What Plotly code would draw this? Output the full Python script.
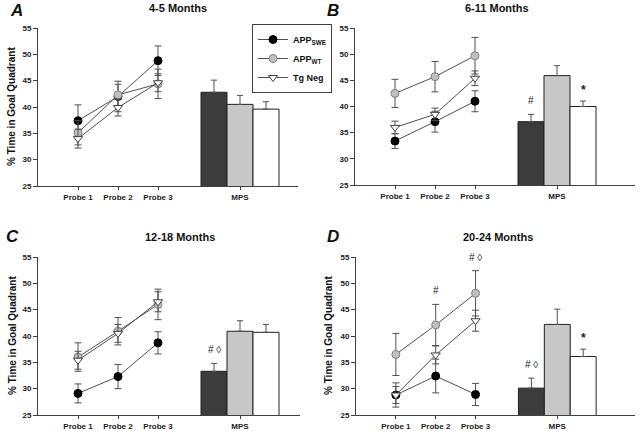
import plotly.graph_objects as go

probes = ["Probe 1", "Probe 2", "Probe 3"]
groups = ["APP<sub>SWE</sub>", "APP<sub>WT</sub>", "Tg Neg"]
titles = ["4-5 Months", "6-11 Months", "12-18 Months", "20-24 Months"]
letters = ["A", "B", "C", "D"]
ytitle = "% Time in Goal Quadrant"
yticks = [25, 30, 35, 40, 45, 50, 55]

# panel A
A_swe = [37.4, 42.0, 48.8]; A_swe_err = [3.0, 2.9, 2.8]
A_wt = [35.1, 42.3, 44.4]; A_wt_err = [2.3, 2.0, 2.8]
A_tg = [34.0, 39.9, 44.6]; A_tg_err = [1.8, 1.6, 1.7]
A_mps = [42.8, 40.5, 39.6]; A_mps_err = [2.3, 1.7, 1.4]
# panel B
B_swe = [33.4, 37.1, 41.0]; B_swe_err = [1.4, 2.0, 2.0]
B_wt = [42.5, 45.7, 49.7]; B_wt_err = [2.7, 2.9, 3.5]
B_tg = [36.0, 38.5, 45.4]; B_tg_err = [1.2, 1.2, 1.4]
B_mps = [37.1, 45.9, 40.0]; B_mps_err = [1.4, 1.9, 1.05]
# panel C
C_swe = [29.1, 32.3, 38.7]; C_swe_err = [1.8, 2.3, 2.1]
C_wt = [36.0, 40.9, 46.0]; C_wt_err = [2.7, 2.6, 2.9]
C_tg = [35.4, 40.5, 46.5]; C_tg_err = [1.7, 1.7, 1.9]
C_mps = [33.3, 40.9, 40.7]; C_mps_err = [1.5, 2.0, 1.5]
# panel D
D_swe = [28.8, 32.4, 28.9]; D_swe_err = [2.3, 3.2, 2.1]
D_wt = [36.5, 42.1, 48.1]; D_wt_err = [4.0, 3.9, 4.3]
D_tg = [28.8, 36.4, 42.9]; D_tg_err = [1.6, 1.7, 2.0]
D_mps = [30.1, 42.2, 36.1]; D_mps_err = [1.9, 2.9, 1.4]

panels = [
    (A_swe, A_swe_err, A_wt, A_wt_err, A_tg, A_tg_err, A_mps, A_mps_err),
    (B_swe, B_swe_err, B_wt, B_wt_err, B_tg, B_tg_err, B_mps, B_mps_err),
    (C_swe, C_swe_err, C_wt, C_wt_err, C_tg, C_tg_err, C_mps, C_mps_err),
    (D_swe, D_swe_err, D_wt, D_wt_err, D_tg, D_tg_err, D_mps, D_mps_err),
]

# significance marks: (panel, "probe"/"mps", index, text)
marks = [
    (1, "mps", 0, "#"), (1, "mps", 2, "*"),
    (2, "mps", 0, "# \u25ca"),
    (3, "probe", 1, "#"), (3, "probe", 2, "# \u25ca"),
    (3, "mps", 0, "# \u25ca"), (3, "mps", 2, "*"),
]

W, H = 640, 431


def fx(p):
    return p / W


def fy(p):
    return 1 - p / H


xdom = [(38, 298), (355, 635), (38, 300), (356, 635)]
ydom = [(28, 186), (28, 185), (257, 415), (257, 415)]
xranges = [[0, 6.5], [0, 7.0], [0, 6.55], [0, 7.0]]
px = [1, 2, 3]
mps_x = 5.05
bar_x = [4.4, 5.05, 5.7]
bar_w = 0.65

FONT = "Liberation Sans, Arial, sans-serif"
LC = "#505050"
styles = [
    dict(symbol="circle", size=8, color="black", line=dict(color="black", width=1)),
    dict(symbol="circle", size=8, color="#c0c0c0", line=dict(color="#808080", width=1)),
    dict(symbol="triangle-down", size=8, color="white", line=dict(color="#404040", width=1)),
]
bar_colors = ["#3c3c3c", "#c8c8c8", "white"]

fig = go.Figure()
layout = {}
for i, p in enumerate(panels):
    sfx = "" if i == 0 else str(i + 1)
    xa, ya = "x" + sfx, "y" + sfx
    vals = [(p[0], p[1]), (p[2], p[3]), (p[4], p[5])]
    mps, mps_err = p[6], p[7]
    for b in range(3):
        fig.add_trace(go.Bar(
            x=[bar_x[b]], y=[mps[b]], width=bar_w, xaxis=xa, yaxis=ya,
            base=0, marker=dict(color=bar_colors[b], line=dict(color="#202020", width=1)),
            error_y=dict(type="data", symmetric=False, array=[mps_err[b]], arrayminus=[0],
                         color=LC, thickness=1, width=3),
            showlegend=False, hoverinfo="skip"))
    for g in range(3):
        y, e = vals[g]
        fig.add_trace(go.Scatter(
            x=px, y=y, xaxis=xa, yaxis=ya, mode="lines+markers",
            name=groups[g], legendgroup=groups[g], showlegend=(i == 0),
            line=dict(color=LC, width=1), marker=styles[g],
            error_y=dict(type="data", array=e, color=LC, thickness=1, width=3.5)))
    x0, x1 = xdom[i]
    y0, y1 = ydom[i]
    layout["xaxis" + sfx] = dict(
        domain=[fx(x0), fx(x1)], anchor=ya, range=xranges[i], automargin=False,
        tickvals=px + [mps_x], ticktext=probes + ["MPS"],
        ticks="outside", ticklen=3, tickcolor="#404040",
        showline=True, linecolor="#404040", linewidth=1, showgrid=False, zeroline=False,
        tickfont=dict(family=FONT, size=8, color="#222", weight="bold"))
    layout["yaxis" + sfx] = dict(
        domain=[fy(y1), fy(y0)], anchor=xa, range=[25, 55], automargin=False,
        tickvals=yticks, ticks="outside", ticklen=4, tickcolor="#404040",
        showline=True, linecolor="#404040", linewidth=1, showgrid=False, zeroline=False,
        tickfont=dict(family=FONT, size=8, color="#222", weight="bold"))

annotations = []
title_pos = [(178, 8), (497, 8), (180, 237), (498, 237)]
letter_pos = [(16, 11), (333, 11), (12, 236), (333, 236)]
ytitle_x = [12, None, 12, 328]
for i in range(4):
    annotations.append(dict(text=titles[i], x=fx(title_pos[i][0]), y=fy(title_pos[i][1]),
                            xref="paper", yref="paper", showarrow=False, xanchor="center", yanchor="middle",
                            font=dict(family=FONT, size=11, color="#111", weight="bold")))
    annotations.append(dict(text="<i>" + letters[i] + "</i>", x=fx(letter_pos[i][0]), y=fy(letter_pos[i][1]),
                            xref="paper", yref="paper", showarrow=False, xanchor="center", yanchor="middle",
                            font=dict(family=FONT, size=17, color="#111", weight="bold")))
    if ytitle_x[i] is not None:
        annotations.append(dict(text=ytitle, x=fx(ytitle_x[i]), y=fy((ydom[i][0] + ydom[i][1]) / 2),
                                xref="paper", yref="paper", showarrow=False, textangle=-90,
                                xanchor="center", yanchor="middle",
                                font=dict(family=FONT, size=10, color="#111", weight="bold")))
for (pi, kind, idx, txt) in marks:
    p = panels[pi]
    sfx = "" if pi == 0 else str(pi + 1)
    if kind == "mps":
        xv = bar_x[idx]
        yv = p[6][idx] + p[7][idx]
    else:
        xv = px[idx]
        yv = max(p[2 * g][idx] + p[2 * g + 1][idx] for g in range(3))
    star = txt == "*"
    annotations.append(dict(text=txt, x=xv, y=yv, xref="x" + sfx, yref="y" + sfx, showarrow=False,
                            xanchor="center", yanchor="bottom", yshift=(2 if star else 6),
                            font=dict(family=FONT, size=(12 if star else 10), color="#222",
                                      weight=("bold" if star else "normal"))))

fig.update_layout(
    width=W, height=H, margin=dict(l=0, r=0, t=0, b=0, autoexpand=False),
    paper_bgcolor="white", plot_bgcolor="white", barmode="overlay",
    annotations=annotations,
    legend=dict(x=fx(252), y=fy(24), xanchor="left", yanchor="top",
                bordercolor="#404040", borderwidth=1, bgcolor="white",
                font=dict(family=FONT, size=9, color="#111", weight="bold"),
                tracegroupgap=0, itemwidth=30),
    **layout)

fig.write_html("out.html", config={"displayModeBar": False},
               post_script="document.body.style.margin='0px';document.body.style.overflow='hidden';")
